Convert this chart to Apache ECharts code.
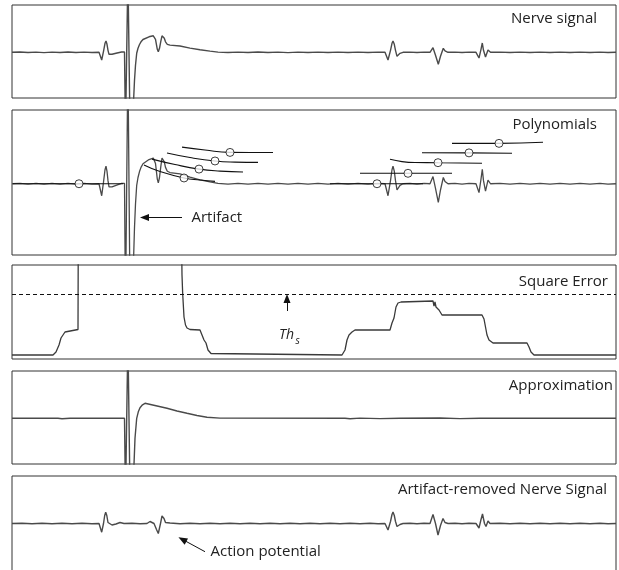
<!DOCTYPE html>
<html>
<head>
<meta charset="utf-8">
<script src="https://cdn.jsdelivr.net/npm/echarts@6/dist/echarts.min.js"></script>
<style>
  html, body { margin: 0; padding: 0; background: #fff; }
  #chart { width: 619px; height: 570px; }
</style>
</head>
<body>
<div id="chart"></div>
<script>
// Recorded nerve signal: [sample, amplitude]; large +/-80 values are the saturated stimulus artifact
const nerveSignal = [
  [12, 0], [20, 0.3], [28, -0.2], [36, 0.2], [44, -0.3], [52, 0.2], [60, -0.2], [68, 0.3], [76, -0.2], [84, 0.2],
  [92, -0.2], [99, 0], [100, -1], [101.7, -7.7], [103.5, 1], [105, 9], [106, 11.3], [107, 8],
  [108, 2], [109, -2], [112, -2], [116, -1], [121.5, 0.3], [124.5, 0.3],
  [125.5, -80], [127.4, -80], [127.9, 80], [129.6, 80], [130.1, -80], [132, -80], [133.5, -50], [134.5, -28],
  [135.5, -13], [136.7, -1], [138, 4], [139.5, 7.8], [141, 10.5], [143, 12.8], [145, 14], [149, 15.5], [153.3, 16.5],
  [155.5, 13], [157.3, 3], [158.3, 0.6], [159.5, 4], [160.8, 11], [162, 16.5], [163, 17.3], [164.3, 14],
  [165.5, 10.5], [167.3, 8], [170, 7.2], [180, 6.3], [190, 4.2], [200, 2.5], [210, 1.2], [218, 0.2],
  [228, -0.2], [238, 0.2], [248, -0.2], [258, 0.3], [268, -0.2], [278, 0.2], [288, -0.3], [298, 0.2],
  [308, -0.2], [318, 0.2], [328, -0.2], [338, 0.2], [348, -0.2], [358, 0.2], [368, -0.2], [378, 0.2],
  [385, 0], [388, -7.7], [390.5, 2], [392, 9], [393, 11.3], [394.3, 8],
  [395.5, 2], [397, -4], [400, -1], [403, 0], [410, 0.2], [417, -0.2], [424, 0.2], [430, 0], [433, 4.6],
  [435.5, -3], [438.3, -12], [440.5, -4], [443.3, 4], [445, 1.5], [448, 0], [455, 0.2], [462, -0.2],
  [469, 0.2], [476, 0], [479, -5.7], [481, 3], [482.3, 9.3], [483.5, 2], [485.5, -4.7],
  [488, 2.3], [490.5, 0], [500, 0.2], [510, -0.2], [520, 0.2], [530, -0.2], [540, 0.2], [550, -0.2],
  [560, 0.2], [570, -0.2], [580, 0.2], [590, -0.2], [600, 0.2], [608, -0.2], [616, 0]
];

// Local polynomial fits: [sample, amplitude]
const polynomials = [
  [[13, 0], [60, 0], [100, 0], [123, 0]],
  [[144, 12.0], [160, 7.8], [184, 3.7], [200, 2.4], [215, 1.5]],
  [[152, 15.8], [175, 12.3], [199, 9.4], [220, 8.1], [243, 7.5]],
  [[167, 19.7], [190, 16.8], [215, 14.6], [235, 13.9], [258, 13.7]],
  [[182, 23.5], [205, 21.6], [230, 20.1], [250, 20.0], [273, 20.0]],
  [[330, 0], [377, 0], [423, 0]],
  [[360, 6.7], [408, 6.7], [452, 6.7]],
  [[390, 15.7], [402, 14.2], [415, 13.6], [438, 13.5], [482, 13.1]],
  [[422, 19.9], [469, 19.8], [512, 19.6]],
  [[452, 25.9], [499, 25.9], [543, 26.6]]
];

// Centre sample of each polynomial window
const polyCentres = [
  [79, 0], [184, 3.7], [199, 9.4], [215, 14.6], [230, 20.1],
  [377, 0], [408, 6.7], [438, 13.5], [469, 19.8], [499, 25.9]
];

// Square error between signal and fits; 200 = off scale
const squareError = [
  [12, 0], [53, 0], [56, 3], [59, 10], [61, 17], [63, 20], [65, 23], [67, 25], [78, 25.5], [78.5, 200],
  [180.5, 200], [182, 80], [182.7, 61], [184, 38], [185.5, 30], [187, 27], [190, 25.5], [200, 25],
  [202, 20], [204, 15], [206, 12], [208, 5], [211, 1.5], [213, 0], [342, 0], [345, 5], [347, 15],
  [349, 20], [352, 23], [355, 25], [390, 25], [392, 32], [394, 37], [396, 48], [398, 52], [401, 53],
  [433, 54], [434, 49], [435, 53], [436, 48], [437, 50], [439, 45], [442, 40], [482, 40], [484, 36],
  [485.5, 28], [487, 20], [489, 15], [493, 12], [527, 12], [529, 8], [531, 3], [534, 0], [616, 0]
];
const threshold = 61;

// Artifact approximation
const approxSignal = [
  [12, 0], [58, 0.1], [62, -0.4], [70, 0], [124.5, 0], [125.5, -80], [127.4, -80], [127.9, 80], [129.6, 80],
  [130.1, -80], [132.5, -80], [134, -46], [135, -20], [136.7, 0], [138.3, 6.5], [140, 10.6], [142.5, 13.5],
  [145, 15], [156, 12.5], [167, 10], [177, 7.3], [187, 5], [197, 2.8], [207, 1], [220, 0.2],
  [345, 0], [350, -0.4], [360, 0.2], [380, -0.3], [400, 0], [440, 0.3], [460, -0.3], [480, 0], [616, 0]
];

// Nerve signal after artifact removal
const cleanSignal = [
  [12, 0], [22, 0.2], [32, -0.2], [42, 0.2], [52, -0.3], [62, 0.2], [72, -0.2], [82, 0.2], [92, -0.2],
  [99, 0], [100, -1], [101.7, -8.7], [103.5, 0], [104.7, 8], [105.7, 11.3],
  [106.8, 8], [108, 1], [109, -1], [112, -1.5], [116, -0.5], [120, 1], [124, 0], [132, 0.2], [140, -0.2],
  [147, 0], [150, 2], [151.7, 2.5], [154, 0], [156.5, -6], [158.3, -10], [160.5, 0], [162, 7.5], [162.7, 8.5],
  [164, 5], [165.5, 1], [167, 0], [170, 0.5], [180, -0.2], [190, 0.2], [200, -0.2], [210, 0.2], [220, -0.2],
  [230, 0.2], [240, -0.2], [250, 0.2], [260, -0.2], [270, 0.2], [280, -0.2], [290, 0.2], [300, -0.2],
  [310, 0.2], [320, -0.2], [330, 0.2], [340, -0.2], [350, 0.2], [360, -0.2], [370, 0.2], [378, -0.2],
  [385, 0], [388, -6.5], [390.5, 2], [392, 9], [393, 11.5], [394.3, 8], [395.5, 2], [397, -3], [400, -1],
  [403, 0], [410, 0.2], [417, -0.2], [424, 0.2], [430, 0],
  [433, 9], [435.5, 0], [438, -11.5], [440.5, -2], [443, 5], [445, 1], [448, 0], [455, 0.2], [462, -0.2],
  [469, 0.2], [476, 0], [479, -4.5], [481, 4], [482.5, 9.5], [484.5, 0], [486, -3], [488, 2.5], [490, 0],
  [500, 0.2], [510, -0.2], [520, 0.2], [530, -0.2], [540, 0.2], [550, -0.2], [560, 0.2], [570, -0.2],
  [580, 0.2], [590, -0.2], [600, 0.2], [608, -0.2], [616, 0]
];

const panelTitles = ['Nerve signal', 'Polynomials', 'Square Error', 'Approximation', 'Artifact-removed Nerve Signal'];

const FONT = '"Open Sans", "Noto Sans", sans-serif';
const SIGNAL = '#4a4a4a';
const INK = '#111';

const panels = [
  { top: 5, height: 93, min: -45.7, max: 47.3 },
  { top: 110, height: 145, min: -45.7, max: 47.3 },
  { top: 265, height: 94, min: -4, max: 90 },
  { top: 371, height: 93, min: -45.7, max: 47.3 },
  { top: 476, height: 120, min: -72.5, max: 47.5 }
];

const grid = panels.map(p => ({
  left: 12, width: 604, top: p.top, height: p.height,
  outerBoundsMode: 'none', containLabel: false,
  show: true, borderColor: '#333', borderWidth: 1, backgroundColor: '#fff'
}));
const xAxis = panels.map((p, i) => ({
  type: 'value', gridIndex: i, min: 12, max: 616, show: false
}));
const yAxis = panels.map((p, i) => ({
  type: 'value', gridIndex: i, min: p.min, max: p.max, show: false
}));

function trace(data, idx, color, width, extra) {
  return Object.assign({
    type: 'line', xAxisIndex: idx, yAxisIndex: idx, data: data,
    showSymbol: false, symbol: 'none', animation: false, silent: true, clip: true,
    lineStyle: { color: color, width: width }, z: 3
  }, extra || {});
}

function arrow(from, to) {
  return [
    { coord: from, symbol: 'none' },
    { coord: to, symbol: 'triangle', symbolSize: [7, 9] }
  ];
}

const arrowLine = { color: INK, width: 1, type: 'solid' };

const series = [
  trace(nerveSignal, 0, SIGNAL, 1.4),
  trace(nerveSignal, 1, SIGNAL, 1.3, {
    markLine: {
      silent: true, animation: false, symbol: 'none', label: { show: false },
      lineStyle: arrowLine, itemStyle: { color: INK },
      data: [arrow([182, -21.6], [144.5, -21.6])]
    }
  })
];

polynomials.forEach(p => series.push(trace(p, 1, INK, 1.1, { smooth: true, z: 4 })));

series.push({
  type: 'scatter', xAxisIndex: 1, yAxisIndex: 1, data: polyCentres,
  symbol: 'circle', symbolSize: 8, animation: false, silent: true, z: 5,
  itemStyle: { color: '#fff', borderColor: INK, borderWidth: 1 }
});

series.push(trace(squareError, 2, '#3a3a3a', 1.3, {
  markLine: {
    silent: true, animation: false, symbol: 'none', label: { show: false },
    itemStyle: { color: INK },
    data: [
      { yAxis: threshold, lineStyle: { color: INK, width: 1, type: [4, 3] } },
      [
        { coord: [287, 44], symbol: 'none', lineStyle: arrowLine },
        { coord: [287, threshold - 4.5], symbol: 'triangle', symbolSize: [7, 9], lineStyle: arrowLine }
      ]
    ]
  }
}));

series.push(trace(approxSignal, 3, SIGNAL, 1.4));

series.push(trace(cleanSignal, 4, SIGNAL, 1.4, {
  markLine: {
    silent: true, animation: false, symbol: 'none', label: { show: false },
    lineStyle: arrowLine, itemStyle: { color: INK },
    data: [arrow([205, -28.2], [182.4, -15.9])]
  }
}));

function label(text, x, y, align, size, style) {
  return {
    type: 'text', x: x, y: y, silent: true, z: 10,
    style: {
      text: text, fill: '#222', font: (style || 'normal') + ' ' + size + 'px ' + FONT,
      fontSize: size, fontFamily: FONT, fontStyle: style || 'normal',
      textAlign: align, align: align, textVerticalAlign: 'middle', verticalAlign: 'middle'
    }
  };
}

const graphic = [
  label(panelTitles[0], 597, 19, 'right', 15),
  label(panelTitles[1], 597, 125, 'right', 15),
  label(panelTitles[2], 608, 282, 'right', 15),
  label(panelTitles[3], 613, 386, 'right', 15),
  label(panelTitles[4], 607, 489.5, 'right', 15),
  label('Artifact', 191.5, 217.5, 'left', 15),
  label('Action potential', 210.5, 551.3, 'left', 15),
  label('Th', 279, 335, 'left', 14, 'italic'),
  label('s', 295.5, 341, 'left', 10, 'italic')
];

const chart = echarts.init(document.getElementById('chart'), null, { renderer: 'canvas' });
chart.setOption({
  animation: false,
  backgroundColor: '#fff',
  grid: grid,
  xAxis: xAxis,
  yAxis: yAxis,
  series: series,
  graphic: graphic
});
</script>
</body>
</html>
